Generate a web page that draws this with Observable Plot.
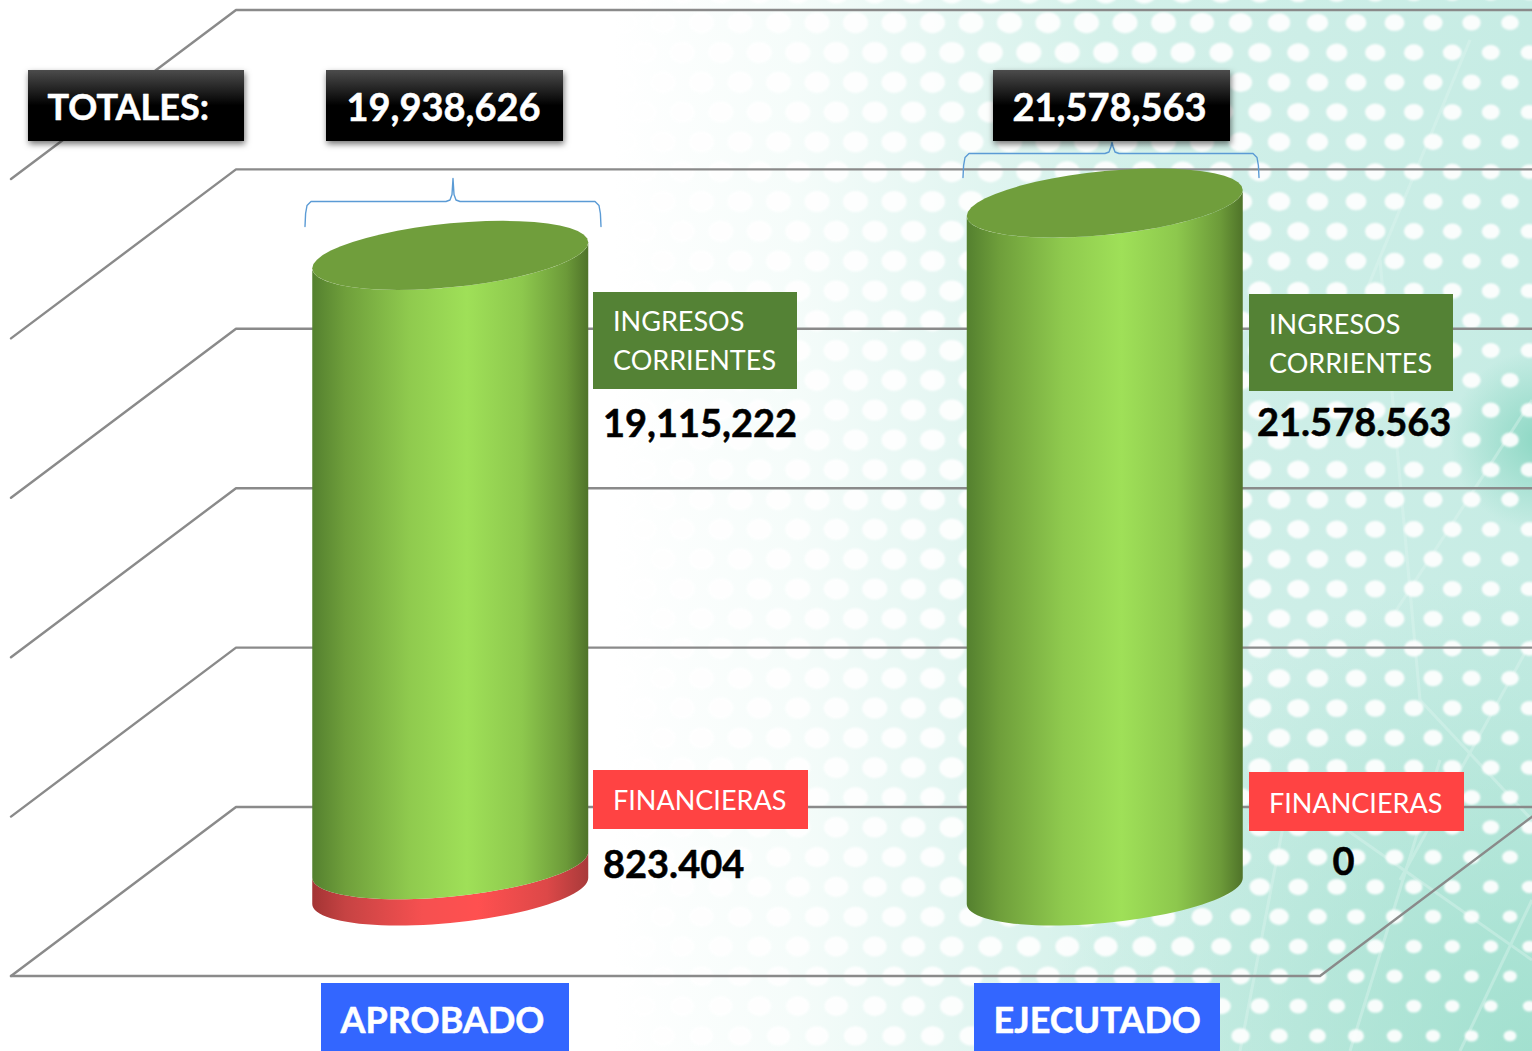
<!DOCTYPE html>
<html lang="es">
<head>
<meta charset="utf-8">
<title>Totales: aprobado y ejecutado</title>
<script src="https://cdn.jsdelivr.net/npm/d3@7"></script>
<script src="https://cdn.jsdelivr.net/npm/@observablehq/plot@0.6"></script>
<style>
html,body{margin:0;padding:0;background:#fff;overflow:hidden}
svg{display:block}
</style>
</head>
<body>
<div id="chart"></div>
<script>
// ---- data ----
const categories = ["APROBADO", "EJECUTADO"];
const ingresos = [19115222, 21578563];
const financieras = [823404, 0];
const totales = [19938626, 21578563];
const totalLabels = ["19,938,626", "21,578,563"];
const ingresosLabels = ["19,115,222", "21.578.563"];
const financierasLabels = ["823.404", "0"];
const gridValues = [0, 5e6, 10e6, 15e6, 20e6, 25e6];

// ---- scale set-up: c = floor width units (0..2), v = value ----
const W = 1532, H = 1051;
const PXC = 654.5, PXV = 31.88e-6, X0 = 11, Y0 = 807;
const cOf = p => (p - X0) / PXC;
const vOf = p => (Y0 - p) / PXV;
const SHIFT_C = 225 / PXC, SHIFT_V = 169 / PXV;
const NUDGE_C = 1 / PXC, NUDGE_V = 1 / PXV;
const project = (c, v, d) => ({x: c + SHIFT_C * d - NUDGE_C, y: v - SHIFT_V * (1 - d) + NUDGE_V});
const projectGrid = (c, v, d) => ({x: c + SHIFT_C * d - NUDGE_C * .5, y: v - SHIFT_V * (1 - d) + NUDGE_V * .5});

// grid: floor + walls
const wallLines = gridValues.flatMap(v =>
  [[0, 0], [0, 1], [2, 1]].map(([c, d]) => ({key: v, ...projectGrid(c, v, d)})));
const floorFront = [[0, 0], [2, 0], [2, 1]].map(([c, d]) => projectGrid(c, 0, d));

// cylinders
const RX = 138 / PXC, TILT = 13 / PXV, RY = 32 / PXV;
const steps = d3.range(0, 49).map(i => i / 48);
const centre = i => project(0.5 + i, 0, 0.5);
const rim = (i, v, t) => {
  const o = centre(i);
  return {x: o.x + RX * Math.cos(t), y: o.y + v + TILT * Math.cos(t) + RY * Math.sin(t)};
};
const band = (i, v0, v1) => [
  ...steps.map(s => rim(i, v1, -Math.PI * s)),
  ...steps.map(s => rim(i, v0, -Math.PI * (1 - s)))
];
const topRim = i => steps.map(s => rim(i, totales[i], 2 * Math.PI * s));

const greens = categories.flatMap((_, i) => band(i, financieras[i], totales[i]).map(p => ({...p, key: i})));
const reds = categories.flatMap((_, i) => financieras[i] > 0 ? band(i, 0, financieras[i]).map(p => ({...p, key: i})) : []);
const tops = categories.flatMap((_, i) => topRim(i).map(p => ({...p, key: i})));

// annotation layout
const box = (x1, x2, y1, y2) => ({x1: cOf(x1), x2: cOf(x2), y1: vOf(y2), y2: vOf(y1)});
const at = (x, y) => ({x: cOf(x), y: vOf(y)});
const blackBoxes = [box(28, 244, 70, 141), box(326, 563, 70, 141), box(993, 1230, 70, 141)];
const greenBoxes = [box(593, 797, 292, 389), box(1249, 1453, 294, 391)];
const redBoxes = [box(593, 808, 770, 829), box(1249, 1464, 772, 831)];
const blueBoxes = [box(321, 569, 983, 1060), box(974, 1220, 983, 1060)];

const braceAt = (xl, xr, xm, yTip, yBar, yEnd, key) => [
  [xl, yEnd], [xl + .6, yBar + 12], [xl + 2, yBar + 4], [xl + 6, yBar],
  [xm - 7, yBar], [xm - 3, yBar - 1.5], [xm - 1, yBar - 7], [xm, yTip],
  [xm + 1, yBar - 7], [xm + 3, yBar - 1.5], [xm + 7, yBar],
  [xr - 6, yBar], [xr - 2, yBar + 4], [xr - .6, yBar + 12], [xr, yEnd]
].map(([x, y]) => ({...at(x, y), key}));
const braces = [...braceAt(304.5, 600.5, 452.5, 178, 201, 226, 0), ...braceAt(962.5, 1258.5, 1111.5, 142, 153, 177, 1)];

// ---- decoration: defs and paper texture ----
function paper() {
  const root = d3.create("svg:g");
  const defs = root.append("defs");
  const grad = (id, stops, attrs = {x1: 0, x2: 1, y1: 0, y2: 0}) => {
    const g = defs.append("linearGradient").attr("id", id);
    for (const k in attrs) g.attr(k, attrs[k]);
    stops.forEach(([o, c]) => g.append("stop").attr("offset", o).attr("stop-color", c));
  };
  grad("cylG", [[0, "#54802f"], [.12, "#6f9f3b"], [.35, "#8fca4e"], [.56, "#9fe058"], [.76, "#8dc84d"], [.92, "#6c9a39"], [1, "#4f7329"]]);
  grad("cylR", [[0, "#a33434"], [.12, "#c64343"], [.4, "#f65050"], [.6, "#ff5050"], [.85, "#dd4848"], [1, "#a83a3a"]]);
  grad("blk", [[0, "#4c4c4c"], [.5, "#000"], [1, "#000"]], {x1: 0, x2: 0, y1: 0, y2: 1});
  grad("bgH", [[0, "#ffffff"], [.4, "#ffffff"], [.52, "#f5fcfa"], [.62, "#e4f6f2"], [.72, "#d4f1ea"], [.85, "#cdeee7"], [1, "#c6ece4"]]);
  const rad = defs.append("radialGradient").attr("id", "bgC").attr("gradientUnits", "userSpaceOnUse")
    .attr("cx", 1532).attr("cy", 1051).attr("r", 480);
  rad.append("stop").attr("offset", 0).attr("stop-color", "#96dcc8").attr("stop-opacity", .75);
  rad.append("stop").attr("offset", 1).attr("stop-color", "#96dcc8").attr("stop-opacity", 0);
  const spot = defs.append("radialGradient").attr("id", "bgS").attr("gradientUnits", "userSpaceOnUse")
    .attr("cx", 1540).attr("cy", 440).attr("r", 90);
  spot.append("stop").attr("offset", 0).attr("stop-color", "#86d5c0").attr("stop-opacity", .9);
  spot.append("stop").attr("offset", 1).attr("stop-color", "#86d5c0").attr("stop-opacity", 0);
  const blur = defs.append("filter").attr("id", "soft");
  blur.append("feGaussianBlur").attr("stdDeviation", .9);

  root.append("rect").attr("width", W).attr("height", H).attr("fill", "url(#bgH)");
  root.append("rect").attr("width", W).attr("height", H).attr("fill", "url(#bgC)");
  root.append("rect").attr("width", W).attr("height", H).attr("fill", "url(#bgS)");
  // faint network strands
  const strands = [[1290,790,1240,1051],[1440,760,1350,1051],[1532,900,1460,1051],[1420,700,1532,820],[1290,790,1532,960],
    [1380,260,1420,700],[1532,400,1390,620],[1470,40,1350,330],[1532,640,1400,880]];
  root.append("g").attr("stroke", "#dff6f0").attr("stroke-width", 3).attr("opacity", .4)
    .selectAll("line").data(strands).join("line")
    .attr("x1", d => d[0]).attr("y1", d => d[1]).attr("x2", d => d[2]).attr("y2", d => d[3]);
  // honeycomb of pale dots
  const dots = [];
  for (let r = -1; r < 36; r++) {
    const y = 22.7 + r * 29.8;
    const start = (r & 1) ? 528.25 : 509;
    for (let x = start; x < W + 20; x += 38.5) {
      const right = Math.max(0, x - 1150) / 400;
      const low = Math.max(0, y - 750) / 300;
      const s = Math.max(.5, 1 - .33 * right - .2 * low * (x > 1200 ? 1 : .4));
      dots.push([x, y, 12.5 * s, 10.5 * s]);
    }
  }
  root.append("g").attr("fill", "#fff").attr("opacity", .92).attr("filter", "url(#soft)")
    .selectAll("ellipse").data(dots).join("ellipse")
    .attr("cx", d => d[0]).attr("cy", d => d[1]).attr("rx", d => d[2]).attr("ry", d => d[3]);
  return root.node();
}

const face = "Lato, Carlito, Calibri, sans-serif";
const bold = (size, fill) => ({fontFamily: face, fontSize: size, fontWeight: 700, fill, stroke: fill, strokeWidth: .5, textAnchor: "start"});
const plain = size => ({fontFamily: face, fontSize: size, fontWeight: 400, fill: "#fff", textAnchor: "start"});

const plot = Plot.plot({
  width: W, height: H,
  marginTop: 0, marginRight: 0, marginBottom: 0, marginLeft: 0,
  style: {background: "transparent", overflow: "hidden"},
  x: {type: "linear", domain: [cOf(0), cOf(W)], range: [0, W], axis: null},
  y: {type: "linear", domain: [vOf(H), vOf(0)], range: [H, 0], axis: null},
  marks: [
    paper,
    Plot.line(wallLines, {x: "x", y: "y", z: "key", stroke: "#8a8a8a", strokeWidth: 2.4, curve: "linear"}),
    Plot.line(floorFront, {x: "x", y: "y", stroke: "#8a8a8a", strokeWidth: 2.4, curve: "linear"}),

    Plot.line(reds, {x: "x", y: "y", z: "key", fill: "url(#cylR)", stroke: "none", curve: "linear"}),
    Plot.line(greens, {x: "x", y: "y", z: "key", fill: "url(#cylG)", stroke: "none", curve: "linear"}),
    Plot.line(tops, {x: "x", y: "y", z: "key", fill: "#709e3c", stroke: "none", curve: "linear"}),

    Plot.line(braces, {x: "x", y: "y", z: "key", stroke: "#5b9bd5", strokeWidth: 1.4, curve: "linear"}),

    Plot.rect(blackBoxes, {x1: "x1", x2: "x2", y1: "y1", y2: "y2", fill: "url(#blk)", imageFilter: "drop-shadow(1px 3px 3px rgba(0,0,0,.55))"}),
    Plot.rect(greenBoxes, {x1: "x1", x2: "x2", y1: "y1", y2: "y2", fill: "#548235"}),
    Plot.rect(redBoxes, {x1: "x1", x2: "x2", y1: "y1", y2: "y2", fill: "#ff4343"}),
    Plot.rect(blueBoxes, {x1: "x1", x2: "x2", y1: "y1", y2: "y2", fill: "#3366ff"}),

    Plot.text(["TOTALES:"], {...at(47, 108), text: d => d, ...bold(36, "#fff")}),
    Plot.text(totalLabels, {x: (_, i) => cOf([346, 1012][i]), y: vOf(108), text: d => d, ...bold(38, "#fff")}),
    Plot.text(ingresosLabels, {x: (_, i) => cOf([602.5, 1256.5][i]), y: (_, i) => vOf([424, 423][i]), text: d => d, ...bold(38, "#000")}),
    Plot.text(financierasLabels, {x: (_, i) => cOf([602.5, 1332][i]), y: (_, i) => vOf([865, 862][i]), text: d => d, ...bold(38, "#000")}),
    Plot.text(categories, {x: (_, i) => cOf([340, 993][i]), y: vOf(1021), text: d => d, ...bold(36, "#fff")}),
    Plot.text(categories.map(() => "INGRESOS\nCORRIENTES"), {x: (_, i) => cOf([612.5, 1268.5][i]), y: (_, i) => vOf([337.5, 340.5][i]), text: d => d, ...plain(27), lineHeight: 1.44}),
    Plot.text(categories.map(() => "FINANCIERAS"), {x: (_, i) => cOf([612.5, 1268.5][i]), y: (_, i) => vOf([801, 804][i]), text: d => d, ...plain(27)})
  ]
});
document.getElementById("chart").append(plot);
</script>
</body>
</html>
